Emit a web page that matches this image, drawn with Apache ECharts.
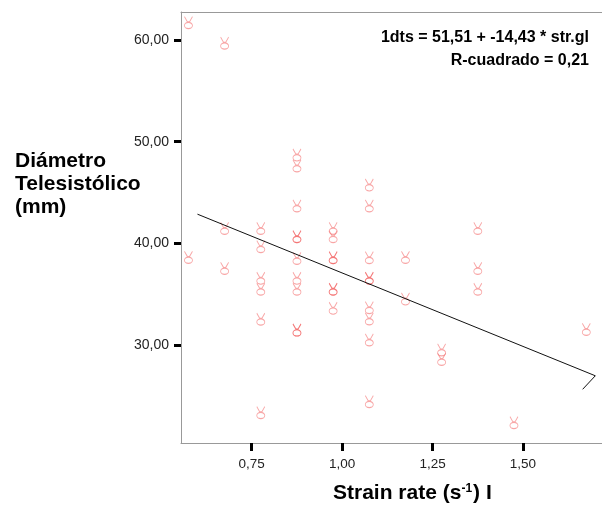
<!DOCTYPE html>
<html>
<head>
<meta charset="utf-8">
<script src="https://cdn.jsdelivr.net/npm/echarts@6/dist/echarts.min.js"></script>
<style>html,body{margin:0;padding:0;background:#fff;}#c{width:602px;height:514px;}</style>
</head>
<body>
<div id="c"></div>
<script>
// Strain rate groups (x) and Diámetro Telesistólico values (y)
const strainRate = [
  0.6, 0.6,
  0.7, 0.7, 0.7,
  0.8, 0.8, 0.8, 0.8, 0.8, 0.8,
  0.9, 0.9, 0.9, 0.9, 0.9, 0.9, 0.9, 0.9, 0.9, 0.9,
  1.0, 1.0, 1.0, 1.0, 1.0, 1.0, 1.0,
  1.1, 1.1, 1.1, 1.1, 1.1, 1.1, 1.1, 1.1, 1.1,
  1.2, 1.2,
  1.3, 1.3,
  1.4, 1.4, 1.4,
  1.5,
  1.7
];
const diametro = [
  61.7, 38.63,
  59.68, 41.48, 37.55,
  41.48, 39.68, 36.57, 35.49, 32.54, 23.35,
  48.69, 47.61, 43.68, 40.66, 40.66, 38.53, 36.57, 35.49, 31.48, 31.48,
  41.48, 40.66, 38.59, 38.59, 35.49, 35.49, 33.62,
  45.74, 43.68, 38.59, 36.57, 36.57, 33.68, 32.57, 30.5, 24.43,
  38.63, 34.53,
  29.52, 28.6,
  41.48, 37.55, 35.49,
  22.37,
  31.55
];
// Fitted line as drawn (with the end artefact)
const fitX = [0.6, 1.7, 1.665];
const fitY = [42.87, 26.98, 25.65];

const xTicks = [0.75, 1.0, 1.25, 1.5];
const yTicks = [30, 40, 50, 60];
const eqText = '1dts = 51,51 + -14,43 * str.gl';
const r2Text = 'R-cuadrado = 0,21';
const yTitle = ['Diámetro', 'Telesistólico', '(mm)'];

const fmt = v => v.toFixed(2).replace('.', ',');
const pts = strainRate.map((x, i) => [x, diametro[i]]);
const fit = fitX.map((x, i) => [x, fitY[i]]);

const hand = 'path://M1,0 L3.2,5 M7,0 L4.8,5 M3.2,5 L4.8,5 M1,8.5 A3,3 0 1,0 7,8.5 A3,3 0 1,0 1,8.5 Z';

const chart = echarts.init(document.getElementById('c'), null, {renderer: 'canvas'});
chart.setOption({
  animation: false,
  backgroundColor: '#fff',
  grid: {left: 181, top: 12, right: 0, bottom: 71, show: false},
  xAxis: [{
    type: 'value', min: 0.5545, max: 1.7185,
    axisLine: {show: true, lineStyle: {color: '#999', width: 1}},
    splitLine: {show: false},
    axisTick: {show: true, customValues: xTicks, length: 8, lineStyle: {color: '#000', width: 3}},
    axisLabel: {customValues: xTicks, formatter: fmt, margin: 14, fontFamily: 'Liberation Sans, Arial', fontSize: 13.5, color: '#222'}
  }, {
    type: 'value', position: 'top', min: 0, max: 1,
    axisLine: {show: true, onZero: false, lineStyle: {color: '#999', width: 1}},
    splitLine: {show: false}, axisTick: {show: false}, axisLabel: {show: false}
  }],
  yAxis: {
    type: 'value', min: 20.37, max: 62.75,
    axisLine: {show: true, lineStyle: {color: '#999', width: 1}},
    splitLine: {show: false},
    axisTick: {show: true, customValues: yTicks, length: 7, lineStyle: {color: '#000', width: 3}},
    axisLabel: {customValues: yTicks, formatter: fmt, margin: 12, fontFamily: 'Liberation Sans, Arial', fontSize: 14, color: '#222'}
  },
  series: [
    {
      type: 'scatter', data: pts, symbol: hand, symbolSize: [8, 12], symbolOffset: [-9, 0],
      itemStyle: {color: 'rgba(0,0,0,0)', borderColor: 'rgba(240,70,70,0.6)', borderWidth: 1},
      z: 3
    },
    {
      type: 'line', data: fit, showSymbol: false, symbol: 'none',
      lineStyle: {color: '#111', width: 1}, z: 4
    }
  ],
  graphic: [
    {type: 'text', right: 13, top: 30, style: {text: eqText, font: 'bold 16px "Liberation Sans", Arial', fill: '#000', align: 'right'}},
    {type: 'text', right: 13, top: 53, style: {text: r2Text, font: 'bold 16px "Liberation Sans", Arial', fill: '#000', align: 'right'}},
    {type: 'text', left: 15, top: 150, style: {text: yTitle.join('\n'), font: 'bold 21px "Liberation Sans", Arial', lineHeight: 23, fill: '#000'}},
    {type: 'text', left: 333, top: 483, style: {
      text: '{a|Strain rate (s}{s|-1}{a|) I}',
      rich: {
        a: {font: 'bold 21px "Liberation Sans", Arial', fill: '#000', verticalAlign: 'bottom'},
        s: {font: 'bold 12px "Liberation Sans", Arial', fill: '#000', verticalAlign: 'top', padding: [0, 1, 0, 0]}
      }
    }}
  ]
});
</script>
</body>
</html>
